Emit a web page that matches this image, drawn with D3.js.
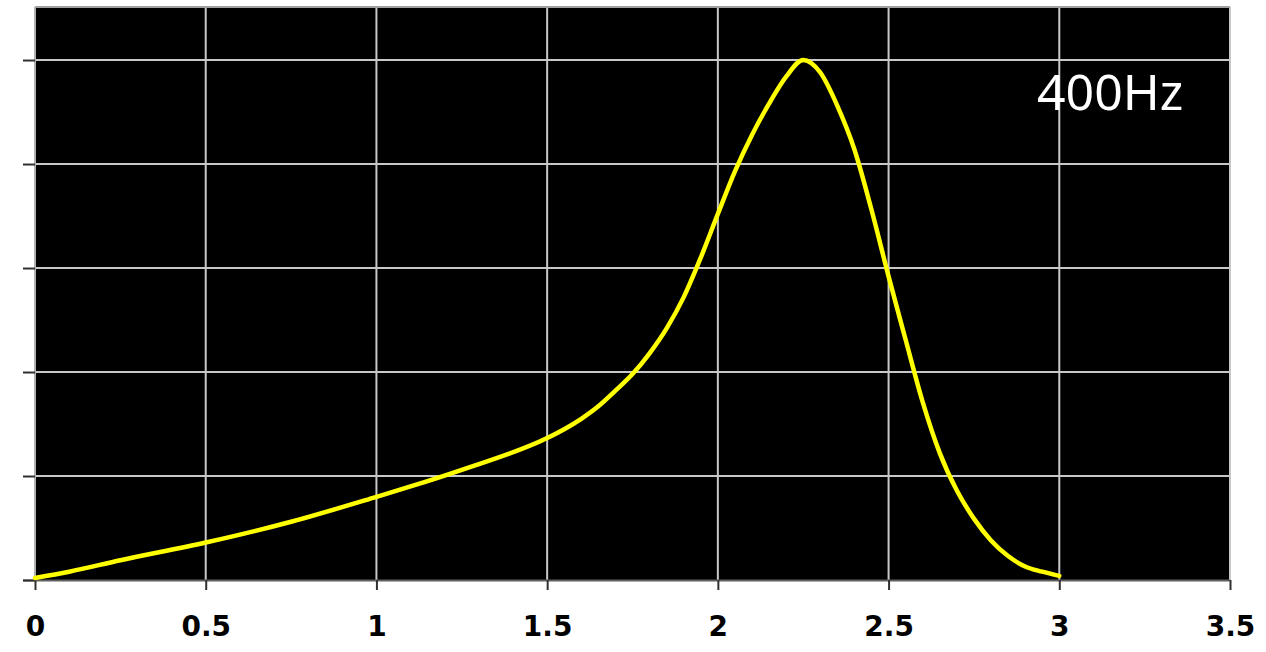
<!DOCTYPE html>
<html>
<head>
<meta charset="utf-8">
<script src="https://cdn.jsdelivr.net/npm/d3@7"></script>
<style>
  html, body { margin: 0; padding: 0; background: #ffffff; }
  svg { display: block; }
</style>
</head>
<body>
<svg id="chart" width="1266" height="652"></svg>
<script>
// ---- data ----
const xValues = [0, 0.1, 0.25, 0.5, 0.75, 1, 1.1, 1.25, 1.5, 1.55, 1.6, 1.65, 1.7, 1.75, 1.8, 1.85, 1.9, 1.95, 2,
                 2.05, 2.1, 2.15, 2.2, 2.25, 2.3, 2.35, 2.4, 2.45, 2.5, 2.55, 2.6, 2.65, 2.7,
                 2.75, 2.8, 2.85, 2.9, 2.95, 3];
const yValues = [0.02, 0.08, 0.19, 0.36, 0.56, 0.80, 0.90, 1.06, 1.365, 1.45, 1.55, 1.67, 1.82, 1.98, 2.18, 2.42, 2.72, 3.10, 3.52,
                 3.93, 4.28, 4.58, 4.84, 5.0, 4.88, 4.56, 4.14, 3.56, 2.92, 2.31, 1.71, 1.22, 0.86,
                 0.59, 0.38, 0.23, 0.13, 0.08, 0.04];
const xTicks = [0, 0.5, 1, 1.5, 2, 2.5, 3, 3.5];
const yTicks = [0, 1, 2, 3, 4, 5];
const label = "400Hz";

// ---- layout ----
const svg = d3.select("#chart");
const pLeft = 35, pRight = 1230, pTop = 7, pBottom = 580;

const x = d3.scaleLinear().domain([0, 3.5]).range([pLeft, pRight]);
const y = d3.scaleLinear().domain([0, 5.51]).range([pBottom, pTop]);

// plot background
svg.append("rect")
  .attr("x", pLeft).attr("y", pTop)
  .attr("width", pRight - pLeft).attr("height", pBottom - pTop)
  .attr("fill", "#000000");

// gridlines
const grid = svg.append("g");
grid.selectAll("line.v").data(xTicks.filter(d => d > 0))
  .enter().append("line")
  .attr("x1", d => x(d)).attr("x2", d => x(d))
  .attr("y1", pTop).attr("y2", pBottom)
  .attr("stroke", "#c8c8c8").attr("stroke-width", 2);
grid.selectAll("line.h").data(yTicks.filter(d => d > 0))
  .enter().append("line")
  .attr("x1", pLeft).attr("x2", pRight)
  .attr("y1", d => y(d)).attr("y2", d => y(d))
  .attr("stroke", "#c8c8c8").attr("stroke-width", 2);
// top border
svg.append("line")
  .attr("x1", pLeft).attr("x2", pRight).attr("y1", pTop).attr("y2", pTop)
  .attr("stroke", "#a0a0a0").attr("stroke-width", 2);
// left border
svg.append("line")
  .attr("x1", pLeft).attr("x2", pLeft).attr("y1", pTop).attr("y2", pBottom)
  .attr("stroke", "#b0b0b0").attr("stroke-width", 2);

// x axis
const xAxis = d3.axisBottom(x).tickValues(xTicks).tickSize(10).tickPadding(26)
  .tickFormat(d => String(d));
const gx = svg.append("g").attr("transform", `translate(0,${pBottom})`).call(xAxis);
gx.select(".domain").attr("stroke", "#606060").attr("stroke-width", 2)
  .attr("d", `M${pLeft - 12},0.5H${pRight}`);
gx.selectAll(".tick line").attr("stroke", "#303030").attr("stroke-width", 2);
gx.selectAll(".tick text")
  .attr("fill", "#000")
  .style("font-family", "'DejaVu Sans', sans-serif")
  .style("font-weight", "bold")
  .style("font-size", "28px");

// y axis ticks (no labels)
const yAxis = d3.axisLeft(y).tickValues(yTicks).tickSize(12).tickFormat("");
const gy = svg.append("g").attr("transform", `translate(${pLeft},0)`).call(yAxis);
gy.select(".domain").remove();
gy.selectAll(".tick line").attr("stroke", "#303030").attr("stroke-width", 2);

// curve
const data = xValues.map((d, i) => [d, yValues[i]]);
const line = d3.line()
  .x(d => x(d[0])).y(d => y(d[1]))
  .curve(d3.curveMonotoneX);
svg.append("path")
  .datum(data)
  .attr("d", line)
  .attr("fill", "none")
  .attr("stroke", "#ffff00")
  .attr("stroke-width", 4.5)
  .attr("stroke-linejoin", "round")
  .attr("stroke-linecap", "round");

// label
svg.append("text")
  .attr("x", 1037).attr("y", 110)
  .attr("fill", "#ffffff")
  .style("font-family", "'Noto Sans', sans-serif")
  .style("font-size", "50px")
  .text(label);
</script>
</body>
</html>
